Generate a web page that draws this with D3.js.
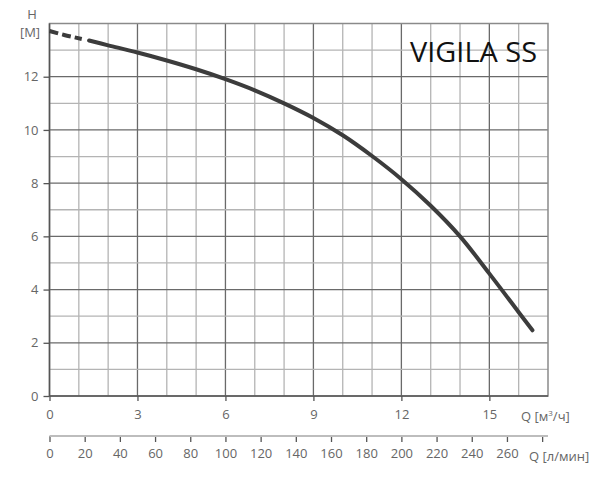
<!DOCTYPE html>
<html><head><meta charset="utf-8">
<script src="https://cdn.jsdelivr.net/npm/d3@7"></script>
<style>body{margin:0;background:#fff}svg{display:block}</style>
</head><body><div id="c"></div>
<script>
const title = "VIGILA SS";
const qDashed = [0, 0.5, 1.1];
const hDashed = [13.72, 13.57, 13.42];
const qSolid = [1.35, 2, 3, 4, 5, 6, 7, 8, 9, 10, 11, 12, 13, 14, 15, 16, 16.47];
const hSolid = [13.36, 13.18, 12.91, 12.61, 12.28, 11.91, 11.49, 11.0, 10.45, 9.8, 9.02, 8.15, 7.15, 6.0, 4.6, 3.15, 2.47];
const xTicks = [0, 3, 6, 9, 12, 15];
const yTicks = [0, 2, 4, 6, 8, 10, 12];
const lminTicks = [0, 20, 40, 60, 80, 100, 120, 140, 160, 180, 200, 220, 240, 260, 280];
const lminLabels = [0, 20, 40, 60, 80, 100, 120, 140, 160, 180, 200, 220, 240, 260];

(function () {
const W = 600, H = 484;
const pL = 49.5, pR = 548, pT = 23.5, pB = 396;
const svg = d3.select("#c").append("svg").attr("width", W).attr("height", H);
const x = d3.scaleLinear().domain([0, 17]).range([pL, pR]);
const y = d3.scaleLinear().domain([0, 14]).range([pB, pT]);
const x2 = d3.scaleLinear().domain([0, 17 * 1000 / 60]).range([pL, pR]);
const font = "'Open Sans', sans-serif";

// grid
const g = svg.append("g");
d3.range(1, 17).forEach(v => {
  g.append("line").attr("x1", x(v)).attr("x2", x(v)).attr("y1", pT).attr("y2", pB)
    .attr("stroke", v % 3 === 0 ? "#6a6a6a" : "#b4b4b4").attr("stroke-width", 1.3);
});
d3.range(1, 14).forEach(v => {
  g.append("line").attr("y1", y(v)).attr("y2", y(v)).attr("x1", pL).attr("x2", pR)
    .attr("stroke", v % 2 === 0 ? "#6a6a6a" : "#b4b4b4").attr("stroke-width", 1.3);
});
g.append("rect").attr("x", pL).attr("y", pT).attr("width", pR - pL).attr("height", pB - pT)
  .attr("fill", "none").attr("stroke", "#8a8a8a").attr("stroke-width", 1.5);
g.append("line").attr("x1", pL).attr("x2", pL).attr("y1", pT).attr("y2", pB).attr("stroke", "#555").attr("stroke-width", 1.5);
g.append("line").attr("x1", pL).attr("x2", pR).attr("y1", pB).attr("y2", pB).attr("stroke", "#555").attr("stroke-width", 1.5);

// axes
const yAx = svg.append("g").attr("transform", `translate(${pL},0)`)
  .call(d3.axisLeft(y).tickValues(yTicks).tickSize(6).tickPadding(5));
const xAx = svg.append("g").attr("transform", `translate(0,${pB})`)
  .call(d3.axisBottom(x).tickValues(xTicks).tickSize(5).tickPadding(9));
const x2Ax = svg.append("g").attr("transform", `translate(0,436)`)
  .call(d3.axisBottom(x2).tickValues(lminTicks).tickSize(6).tickPadding(7)
    .tickFormat(d => lminLabels.includes(d) ? d : ""));
[yAx, xAx, x2Ax].forEach(a => {
  a.select(".domain").remove();
  a.selectAll(".tick line").attr("stroke", "#555").attr("stroke-width", 1.3);
  a.selectAll(".tick text").attr("fill", "#666").style("font-family", font).style("font-size", "13px");
});
svg.append("line").attr("x1", pL).attr("x2", pR).attr("y1", 436).attr("y2", 436)
  .attr("stroke", "#bdbdbd").attr("stroke-width", 2);

// axis labels
const lab = (t, xx, yy, anchor) => svg.append("text").attr("x", xx).attr("y", yy).attr("text-anchor", anchor || "start")
  .attr("fill", "#666").style("font-family", font).style("font-size", "13px").text(t);
lab("H", 32, 19, "middle");
lab("[M]", 30, 37, "middle");
const q1 = svg.append("text").attr("x", 521).attr("y", 421).attr("fill", "#666")
  .style("font-family", font).style("font-size", "13px");
q1.append("tspan").text("Q [м");
q1.append("tspan").attr("dy", -5).style("font-size", "8px").text("3");
q1.append("tspan").attr("dy", 5).text("/ч]");
lab("Q [л/мин]", 529, 461);

// title
svg.append("text").attr("x", 410).attr("y", 62)
  .attr("textLength", 127).attr("lengthAdjust", "spacingAndGlyphs")
  .attr("fill", "#111").style("font-family", font).style("font-size", "27px").text(title);

// curve
const line = d3.line().x(d => x(d[0])).y(d => y(d[1])).curve(d3.curveCatmullRom.alpha(0.5));
const dashed = qDashed.map((q, i) => [q, hDashed[i]]);
const solid = qSolid.map((q, i) => [q, hSolid[i]]);
svg.append("path").attr("d", line(dashed)).attr("fill", "none").attr("stroke", "#3c3c3c")
  .attr("stroke-width", 4).attr("stroke-dasharray", "9,4");
svg.append("path").attr("d", line(solid)).attr("fill", "none").attr("stroke", "#3c3c3c")
  .attr("stroke-width", 4).attr("stroke-linecap", "round");
})();
</script></body></html>
